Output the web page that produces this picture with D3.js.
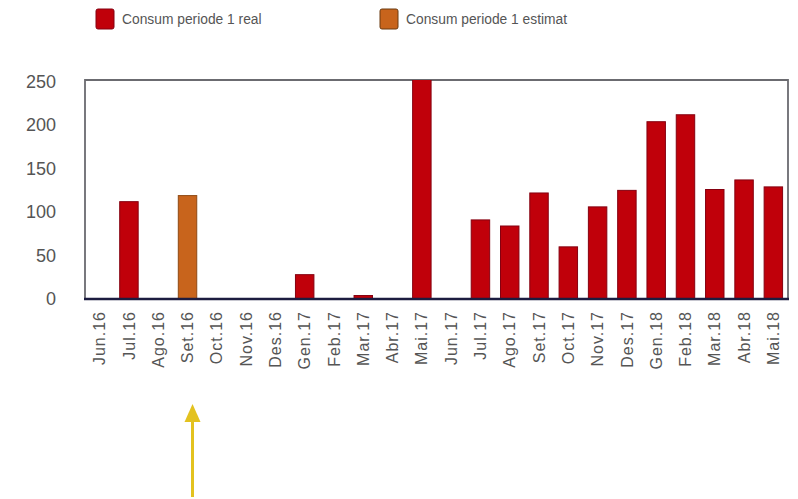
<!DOCTYPE html>
<html>
<head>
<meta charset="utf-8">
<script src="https://cdn.jsdelivr.net/npm/d3@7"></script>
<style>
  body { margin: 0; background: #fff; }
  text { font-family: "Liberation Sans", Arial, sans-serif; }
</style>
</head>
<body>
<svg id="chart" width="798" height="499"></svg>
<script>
let months = ["Jun.16", "Jul.16", "Ago.16", "Set.16", "Oct.16", "Nov.16", "Des.16", "Gen.17", "Feb.17", "Mar.17", "Abr.17", "Mai.17",
  "Jun.17", "Jul.17", "Ago.17", "Set.17", "Oct.17", "Nov.17", "Des.17", "Gen.18", "Feb.18", "Mar.18", "Abr.18", "Mai.18"];
// consumption, real readings (0 = no bar)
let realValues = [0, 112, 0, 0, 0, 0, 0, 28, 0, 4, 0, 262,
  0, 91, 84, 122, 60, 106, 125, 204, 212, 126, 137, 129];
// consumption, estimated
let estValues = [0, 0, 0, 119, 0, 0, 0, 0, 0, 0, 0, 0,
  0, 0, 0, 0, 0, 0, 0, 0, 0, 0, 0, 0];
let yTicks = [0, 50, 100, 150, 200, 250];
let legendNames = ["Consum periode 1 real", "Consum periode 1 estimat"];

let plotLeft = 85, plotRight = 788, plotTop = 80, plotBottom = 299;
let svg = d3.select("#chart");

let x = d3.scaleBand().domain(months).range([plotLeft, plotRight]).paddingInner(0.37).paddingOuter(0.185);
let y = d3.scaleLinear().domain([0, 252]).range([plotBottom, plotTop]);

svg.append("clipPath").attr("id", "plotClip")
  .append("rect").attr("x", plotLeft).attr("y", plotTop)
  .attr("width", plotRight - plotLeft).attr("height", plotBottom - plotTop);

// frame
svg.append("path")
  .attr("d", `M${plotLeft},${plotBottom} V${plotTop} H${plotRight} V${plotBottom}`)
  .attr("fill", "none").attr("stroke", "#6b6b70").attr("stroke-width", 1.8);

let bars = svg.append("g").attr("clip-path", "url(#plotClip)");
bars.selectAll("rect.real")
  .data(months.map((m, i) => ({ m, v: realValues[i] })).filter(d => d.v > 0))
  .enter().append("rect").attr("class", "real")
  .attr("x", d => x(d.m)).attr("width", x.bandwidth())
  .attr("y", d => y(d.v)).attr("height", d => y(0) - y(d.v))
  .attr("fill", "#c0000a").attr("stroke", "#850010").attr("stroke-width", 1);
bars.selectAll("rect.est")
  .data(months.map((m, i) => ({ m, v: estValues[i] })).filter(d => d.v > 0))
  .enter().append("rect").attr("class", "est")
  .attr("x", d => x(d.m)).attr("width", x.bandwidth())
  .attr("y", d => y(d.v)).attr("height", d => y(0) - y(d.v))
  .attr("fill", "#c8641c").attr("stroke", "#8f4a14").attr("stroke-width", 1);

// baseline
svg.append("line").attr("x1", plotLeft - 1).attr("x2", plotRight + 1)
  .attr("y1", plotBottom).attr("y2", plotBottom)
  .attr("stroke", "#1c1c40").attr("stroke-width", 2.5);

// y axis labels
let yAxis = svg.append("g").attr("transform", `translate(${plotLeft},0)`)
  .call(d3.axisLeft(y).tickValues(yTicks).tickSize(0).tickPadding(29));
yAxis.select(".domain").remove();
yAxis.selectAll("text").attr("font-size", 18).attr("fill", "#555")
  .attr("font-family", "Liberation Sans, Arial, sans-serif");

// x axis labels (rotated)
let xAxis = svg.append("g").attr("transform", `translate(0,${plotBottom})`)
  .call(d3.axisBottom(x).tickSize(0));
xAxis.select(".domain").remove();
xAxis.selectAll("text")
  .attr("font-size", 16).attr("fill", "#555")
  .attr("letter-spacing", 1)
  .attr("font-family", "Liberation Sans, Arial, sans-serif")
  .attr("text-anchor", "end")
  .attr("transform", "rotate(-90)")
  .attr("x", -12).attr("y", 0).attr("dy", "0.35em");

// legend
let legendColors = ["#c0000a", "#c8641c"];
let legendStroke = ["#850010", "#6b3a10"];
let legendX = [96, 380];
let lg = svg.append("g").selectAll("g").data(legendNames).enter().append("g")
  .attr("transform", (d, i) => `translate(${legendX[i]},9)`);
lg.append("rect").attr("width", 18).attr("height", 20).attr("rx", 2)
  .attr("fill", (d, i) => legendColors[i]).attr("stroke", (d, i) => legendStroke[i]);
lg.append("text").attr("x", 26).attr("y", 10).attr("dy", "0.35em")
  .attr("font-size", 13.8).attr("fill", "#555").text(d => d);

// yellow arrow pointing at the estimated month
let ax = x("Set.16") + x.bandwidth() / 2 + 5;
svg.append("line").attr("x1", ax).attr("x2", ax).attr("y1", 497).attr("y2", 418)
  .attr("stroke", "#e3c21f").attr("stroke-width", 3);
svg.append("path")
  .attr("d", `M${ax},404 L${ax - 8},422 L${ax + 8},422 Z`)
  .attr("fill", "#e3c21f");
</script>
</body>
</html>
